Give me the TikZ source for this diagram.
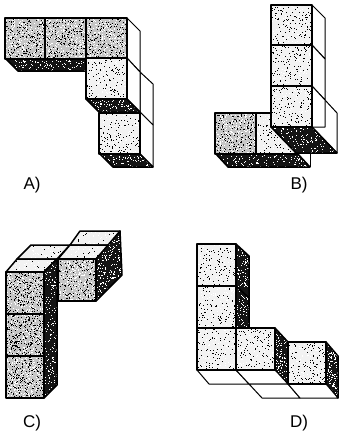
\documentclass[tikz,border=0pt]{standalone}
\usepackage{fontspec}
\setmainfont{Liberation Sans}
\tikzset{
  edge/.style={draw=black,line width=1.5pt,line join=round},
  thinedge/.style={draw=black,line width=1pt,fill=white,line join=round},
  darkface/.style={fill=black!92},
  midface/.style={fill=gray!45},
  liteface/.style={fill=gray!10},
  caption/.style={font=\fontsize{17}{20}\selectfont,inner sep=0pt},
}
% base style, black dots, white dots, box x1 y1 x2 y2, outline
\newcommand{\stipface}[8]{%
  \path[#1] #8;
  \begin{scope}
    \clip #8;
    \foreach \i in {1,...,#2}
      \fill[black] ({#4+rnd*(#6-#4)},{#5+rnd*(#7-#5)}) rectangle +(1,1);
    \foreach \i in {1,...,#3}
      \fill[white] ({#4+rnd*(#6-#4)},{#5+rnd*(#7-#5)}) rectangle +(1,1);
  \end{scope}
  \draw[edge] #8;
}
\newcommand{\darkquad}[5]{\stipface{darkface}{0}{#1}{#2}{#3}{#4}{#5}{(#2,#3) -- (#2+13,#5) -- (#4,#5) -- (#4-13,#3) -- cycle}}
\newcommand{\midcube}[2]{\stipface{midface}{230}{260}{#1}{#2}{#1+41}{#2+41}{(#1,#2) rectangle (#1+41,#2+41)}}
\newcommand{\litecube}[2]{\stipface{liteface}{130}{110}{#1}{#2}{#1+41}{#2+41}{(#1,#2) rectangle (#1+41,#2+41)}}
\begin{document}
\begin{tikzpicture}[x=1pt,y=-1pt]
  \useasboundingbox (0,0) rectangle (338,434);
  \pgfmathsetseed{11}
  % A
  \draw[thinedge] (127,18) -- (140,31) -- (140,72) -- (127,58) -- cycle;
  \draw[thinedge] (140,72) -- (153,84) -- (153,125) -- (140,112) -- cycle;
  \draw[thinedge] (127,58) -- (140,72) -- (140,112) -- (127,99) -- cycle;
  \draw[thinedge] (140,112) -- (153,125) -- (153,167) -- (140,154) -- cycle;
  \stipface{darkface}{0}{130}{5}{58}{86}{71}{(5,58) -- (18,71) -- (86,71) -- (86,58) -- cycle}
  \darkquad{90}{86}{99}{140}{112}
  \darkquad{90}{100}{154}{153}{167}
  \midcube{5}{18}
  \midcube{45}{18}
  \midcube{86}{18}
  \litecube{86}{58}
  \litecube{99}{113}
  \node[caption] (labelA) at (32,185) {A)};
  % B
  \draw[thinedge] (312,5) -- (325,18) -- (325,59) -- (312,45) -- cycle;
  \draw[thinedge] (312,45) -- (325,59) -- (325,100) -- (312,86) -- cycle;
  \draw[thinedge] (325,100) -- (337,113) -- (337,153) -- (312,127) -- cycle;
  \draw[thinedge] (312,86) -- (325,100) -- (325,127) -- (312,127) -- cycle;
  \draw[thinedge] (310,153) -- (310,167);
  \stipface{darkface}{0}{130}{215}{153}{310}{167}{(215,153) -- (228,167) -- (310,167) -- (297,153) -- cycle}
  \midcube{215}{113}
  \litecube{256}{113}
  \stipface{darkface}{0}{160}{271}{127}{337}{153}{(271,127) -- (312,127) -- (337,153) -- (296,153) -- cycle}
  \litecube{271}{5}
  \litecube{271}{45}
  \litecube{271}{86}
  \node[caption] (labelB) at (299,185) {B)};
  % C
  \stipface{liteface}{15}{40}{31}{245}{68}{259}{(17,259) -- (31,245) -- (70,245) -- (57,259) -- cycle}
  \stipface{liteface}{15}{40}{6}{259}{57}{272}{(6,272) -- (17,259) -- (57,259) -- (44,272) -- cycle}
  \stipface{darkface}{0}{190}{44}{259}{57}{398}{(44,272) -- (57,259) -- (57,385) -- (44,398) -- cycle}
  \stipface{midface}{270}{240}{6}{272}{44}{314}{(6,272) rectangle (44,314)}
  \stipface{midface}{310}{200}{6}{314}{44}{356}{(6,314) rectangle (44,356)}
  \stipface{midface}{270}{270}{6}{356}{44}{398}{(6,356) rectangle (44,398)}
  \stipface{liteface}{15}{40}{68}{231}{120}{245}{(70,245) -- (80,231) -- (120,231) -- (110,245) -- cycle}
  \stipface{liteface}{15}{40}{58}{245}{110}{259}{(58,259) -- (70,245) -- (110,245) -- (96,259) -- cycle}
  \stipface{darkface}{0}{270}{96}{231}{122}{301}{(96,259) -- (120,231) -- (122,275) -- (96,301) -- cycle}
  \stipface{midface}{190}{250}{58}{259}{96}{301}{(58,259) rectangle (96,301)}
  \node[caption] (labelC) at (32,423) {C)};
  % D
  \stipface{darkface}{0}{90}{236}{244}{249}{286}{(236,244) -- (249,256) -- (249,298) -- (236,286) -- cycle}
  \stipface{darkface}{0}{90}{236}{286}{249}{328}{(236,286) -- (249,298) -- (249,328) -- (236,328) -- cycle}
  \stipface{darkface}{0}{150}{275}{328}{288}{384}{(275,328) -- (288,342) -- (288,384) -- (275,370) -- cycle}
  \stipface{darkface}{0}{170}{326}{342}{338}{398}{(326,342) -- (338,356) -- (338,398) -- (326,384) -- cycle}
  \draw[thinedge] (197,370) -- (209,384) -- (249,384) -- (236,370) -- cycle;
  \draw[thinedge] (236,370) -- (249,384) -- (288,384) -- (275,370) -- cycle;
  \draw[thinedge] (249,384) -- (262,398) -- (300,398) -- (288,384) -- cycle;
  \draw[thinedge] (288,384) -- (300,398) -- (338,398) -- (326,384) -- cycle;
  \stipface{liteface}{110}{110}{197}{244}{236}{286}{(197,244) rectangle (236,286)}
  \stipface{liteface}{110}{110}{197}{286}{236}{328}{(197,286) rectangle (236,328)}
  \stipface{liteface}{110}{110}{197}{328}{236}{370}{(197,328) rectangle (236,370)}
  \stipface{liteface}{130}{110}{236}{328}{275}{370}{(236,328) rectangle (275,370)}
  \stipface{liteface}{130}{110}{288}{342}{326}{384}{(288,342) rectangle (326,384)}
  \node[caption] (labelD) at (299,423) {D)};
\end{tikzpicture}
\end{document}
